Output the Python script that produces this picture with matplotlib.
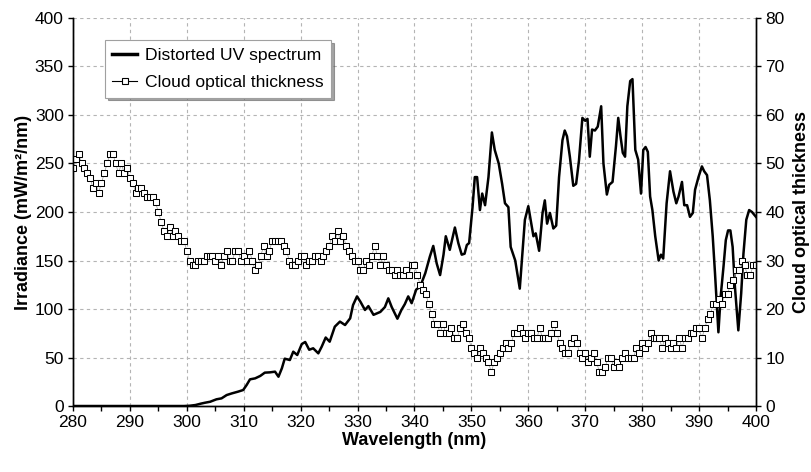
import numpy as np
import matplotlib
matplotlib.use("Agg")
import matplotlib.pyplot as plt
from matplotlib.lines import Line2D

plt.rcParams['font.family'] = ['Liberation Sans', 'DejaVu Sans']

# Distorted UV spectrum: wavelength (nm) and irradiance (mW/m2/nm)
spec_wl = [280, 290, 299.5, 300.5, 301.5, 302.5, 303.2, 304.1, 305.2, 306.1,
           307.0, 307.9, 309.0, 309.9, 310.5, 311.1, 312.0, 312.9, 313.7, 314.6,
           315.5, 316.1, 316.7, 317.2, 318.1, 318.7, 319.4, 320.2, 320.8, 321.5,
           322.2, 323.1, 323.7, 324.4, 325.1, 326.0, 326.9, 327.8, 328.7, 329.2,
           329.9, 330.5, 331.3, 331.9, 332.8, 334.0, 334.8, 335.4, 336.0, 337.0,
           337.7, 338.3, 338.9, 339.5, 340.3, 341.0, 341.9, 342.7, 343.3, 343.9,
           344.5, 345.1, 345.5, 346.2, 347.1, 347.7, 348.3, 348.8, 349.2, 349.6,
           350.2, 350.6, 351.0, 351.5, 351.9, 352.4, 353.0, 353.6, 354.1, 354.8,
           355.4, 355.9, 356.5, 356.9, 357.7, 358.5, 359.4, 360.0, 360.9, 361.3,
           361.9, 362.5, 362.9, 363.3, 363.8, 364.4, 364.9, 365.4, 366.0, 366.4,
           366.8, 367.3, 367.9, 368.4, 368.9, 369.5, 370.0, 370.4, 370.8, 371.2,
           371.7, 372.2, 372.8, 373.2, 373.8, 374.2, 374.8, 375.4, 375.8, 376.2,
           376.6, 377.0, 377.4, 377.9, 378.3, 378.8, 379.3, 379.8, 380.2, 380.6,
           381.0, 381.4, 381.8, 382.3, 382.9, 383.3, 383.7, 384.3, 384.9, 385.5,
           386.0, 386.4, 387.0, 387.4, 387.9, 388.4, 388.9, 389.3, 389.9, 390.5,
           390.9, 391.4, 391.9, 392.4, 392.8, 393.4, 393.8, 394.3, 394.7, 395.1,
           395.5, 395.9, 396.3, 396.9, 397.4, 397.8, 398.3, 398.8, 399.3, 400.0]
spec_irr = [0, 0, 0, 0.3, 1, 2.5, 3.4, 4.4, 6.9, 7.9,
            11.3, 13, 14.8, 16.5, 21.6, 27.5, 28.5, 31, 34.4, 34.7,
            35.4, 30.2, 38.9, 48.8, 47.4, 56, 52.6, 63.9, 66, 58,
            59.5, 54.3, 61.2, 70.6, 66.3, 81.8, 87, 83.5, 90.4, 104,
            113, 107.5, 99, 103, 94, 97, 102, 111, 102, 90,
            99, 105, 113, 106, 120, 123, 137, 154, 165, 147,
            135, 156, 175, 161, 184, 168, 156, 157, 166, 168,
            205, 236, 236, 202, 219, 207, 236, 282, 264, 250,
            229, 209, 205, 164, 150, 121, 192, 206, 175, 178,
            160, 199, 212, 188, 199, 183, 186, 236, 274, 284,
            278, 257, 227, 229, 253, 297, 294, 296, 257, 285,
            284, 288, 309, 250, 218, 228, 231, 268, 297, 278,
            261, 257, 309, 335, 337, 264, 254, 219, 264, 267,
            262, 216, 202, 175, 150, 156, 152, 209, 242, 221,
            209, 216, 231, 207, 207, 195, 199, 223, 236, 247,
            242, 238, 212, 175, 137, 76, 113, 144, 171, 181,
            181, 164, 123, 78, 116, 157, 192, 202, 200, 195]

# Cloud optical thickness, sampled every 0.5 nm from 280 to 400 nm
cot_values = [49, 51, 52, 50, 49, 48, 47, 45, 46, 44,
              46, 48, 50, 52, 52, 50, 48, 50, 48, 49,
              47, 46, 44, 45, 45, 44, 43, 43, 43, 42,
              40, 38, 36, 35, 37, 35, 36, 35, 34, 34,
              32, 30, 29, 29, 30, 30, 30, 31, 31, 31,
              30, 31, 29, 31, 32, 30, 30, 32, 32, 30,
              31, 30, 32, 30, 28, 29, 31, 33, 31, 32,
              34, 34, 34, 34, 33, 32, 30, 29, 29, 30,
              31, 31, 29, 30, 30, 31, 31, 30, 31, 32,
              33, 35, 34, 36, 34, 35, 33, 32, 31, 30,
              30, 28, 28, 30, 29, 31, 33, 31, 29, 31,
              29, 28, 28, 27, 28, 27, 27, 28, 27, 29,
              29, 27, 25, 24, 23, 21, 19, 17, 17, 15,
              17, 15, 15, 16, 14, 14, 16, 17, 15, 14,
              12, 11, 10, 12, 11, 10, 9, 7, 9, 10,
              11, 12, 13, 12, 13, 15, 15, 16, 15, 14,
              15, 15, 14, 14, 16, 14, 14, 14, 15, 17,
              15, 13, 12, 11, 11, 13, 14, 13, 11, 10,
              11, 9, 10, 11, 9, 7, 7, 8, 10, 10,
              8, 9, 8, 10, 11, 10, 10, 10, 12, 11,
              13, 12, 13, 15, 14, 14, 14, 12, 14, 13,
              12, 13, 12, 14, 12, 14, 14, 15, 15, 16,
              16, 14, 16, 18, 19, 21, 21, 22, 21, 23,
              23, 25, 26, 28, 28, 30, 29, 27, 27, 29,
              29]
cot_wl = 280 + 0.5 * np.arange(len(cot_values))

fig = plt.figure(figsize=(8.12, 4.72), dpi=100)
ax = fig.add_axes([0.0899, 0.1398, 0.8411, 0.8221])
ax2 = ax.twinx()

ax.plot(spec_wl, spec_irr, color='black', linewidth=1.8, zorder=3)
ax2.plot(cot_wl, cot_values, color='#9a9a9a', linewidth=0.5,
         marker='s', markersize=4.5, markerfacecolor='white',
         markeredgecolor='black', markeredgewidth=0.75)

ax.set_xlim(280, 400)
ax.set_ylim(0, 400)
ax2.set_ylim(0, 80)

ax.set_xticks(np.arange(280, 401, 10))
ax.set_xticks(np.arange(285, 400, 10), minor=True)
ax.set_yticks(np.arange(0, 401, 50))
ax2.set_yticks(np.arange(0, 81, 10))

ax.grid(True, which='major', color='#b4b4b4', linestyle=(0, (3, 3)), linewidth=0.8)
ax.set_axisbelow(True)

for a in (ax, ax2):
    a.spines['top'].set_visible(False)
    for s in ('left', 'right', 'bottom'):
        a.spines[s].set_linewidth(1.0)
ax.tick_params(axis='both', which='both', direction='out', length=3.6, width=1,
               pad=3, labelsize=12.5, colors='black')
ax2.tick_params(axis='y', direction='out', length=3.6, width=1, pad=3, labelsize=12.5)

ax.set_xlabel('Wavelength (nm)', fontsize=13, fontweight='bold', labelpad=1)
ax.set_ylabel('Irradiance (mW/m²/nm)', fontsize=13, fontweight='bold', labelpad=2)
ax2.set_ylabel('Cloud optical thickness', fontsize=13, fontweight='bold',
               rotation=90, labelpad=6)

handles = [Line2D([], [], color='black', linewidth=2.5),
           Line2D([], [], color='black', linewidth=0.8, marker='s', markersize=4.5,
                  markerfacecolor='white', markeredgecolor='black', markeredgewidth=0.8)]
labels = ['Distorted UV spectrum', 'Cloud optical thickness']
leg = ax2.legend(handles, labels, loc='upper left', bbox_to_anchor=(0.047, 0.943),
                 borderaxespad=0, fontsize=12.6, frameon=True, fancybox=False,
                 shadow=True, edgecolor='#a0a0a0', handlelength=1.4,
                 handletextpad=0.45, labelspacing=0.7, borderpad=0.42)
leg.get_frame().set_linewidth(0.8)

fig.savefig('out.png', dpi=100)
